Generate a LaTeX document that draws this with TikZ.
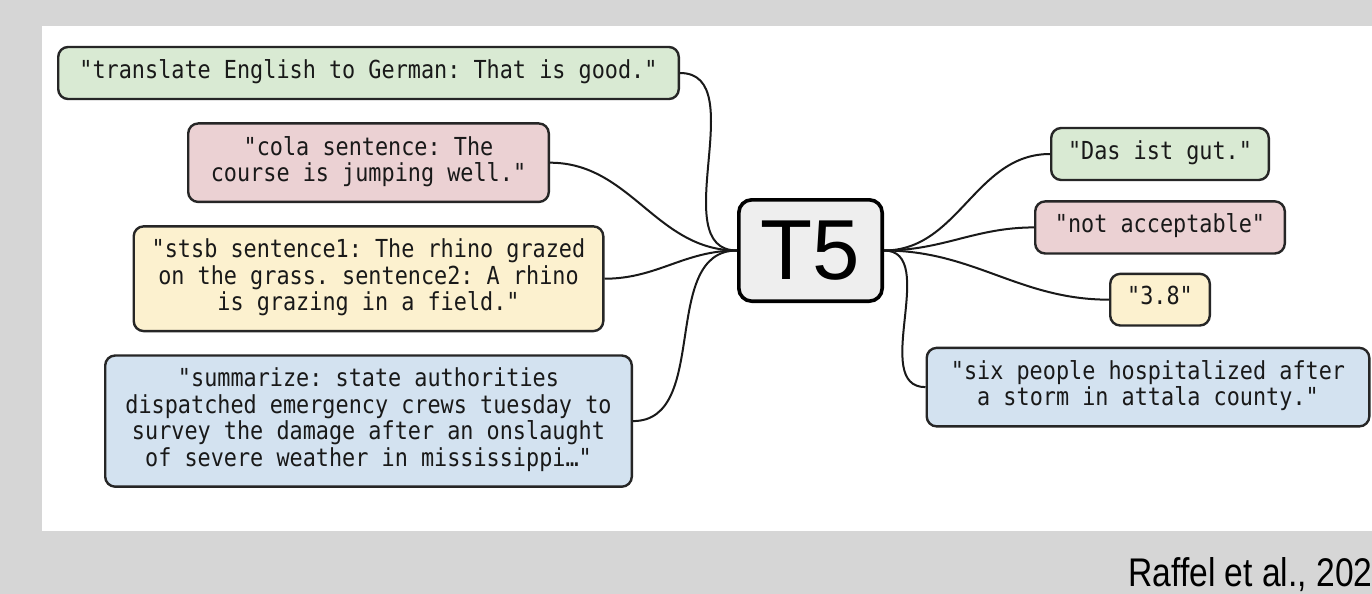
\documentclass[tikz,border=0pt]{standalone}
\usepackage{fontspec}
\setmainfont{Liberation Sans}
\setmonofont[FakeStretch=0.88]{DejaVu Sans Mono}
\newfontfamily\citefont[FakeStretch=0.84]{Liberation Sans}
\usetikzlibrary{positioning}
\definecolor{SlideGray}{HTML}{D6D6D6}
\definecolor{LightGreen}{HTML}{D9EAD3}
\definecolor{LightRed}{HTML}{EBD1D3}
\definecolor{LightYellow}{HTML}{FCF1CF}
\definecolor{LightBlue}{HTML}{D3E2F0}
\definecolor{ModelGray}{HTML}{EEEEEE}

\begin{document}
\begin{tikzpicture}[
  x=0.5pt,y=-0.5pt,
  node distance=11pt,
  msg/.style={draw=black!85,line width=1.2pt,rounded corners=5pt,align=center,text=black!90,
    font=\ttfamily\fontsize{12.4}{13.2}\selectfont,inner xsep=5pt,inner ysep=6.3pt,
    execute at begin node=\strut,execute at end node=\strut},
  model/.style={draw=black,line width=1.8pt,rounded corners=6.5pt,fill=ModelGray,
    minimum width=71.7pt,minimum height=50.7pt,inner sep=0pt,font=\fontsize{42.6}{44}\selectfont},
  link/.style={line width=1pt,black!90}
]
\useasboundingbox (0,0) rectangle (1372,594);
\fill[SlideGray] (0,0) rectangle (1372,594);
\fill[white] (42,26) rectangle (1372,531);

\node[model] (t5) at (810.5,250.5) {T5};

% inputs
\node[msg,fill=LightGreen,minimum width=310.3pt] (translate) at (368.5,73) {"translate English to German: That is good."};
\node[msg,fill=LightRed,minimum width=180.3pt,below=of translate] (cola) {"cola sentence: The\\course is jumping well."};
\node[msg,fill=LightYellow,minimum width=234.8pt,below=of cola] (stsb) {"stsb sentence1: The rhino grazed\\on the grass. sentence2: A rhino\\is grazing in a field."};
\node[msg,fill=LightBlue,minimum width=263.3pt,below=of stsb] (summarize) {"summarize: state authorities\\dispatched emergency crews tuesday to\\survey the damage after an onslaught\\of severe weather in mississippi…"};

% outputs
\node[msg,fill=LightGreen,minimum width=108.8pt] (das) at (1160,154) {"Das ist gut."};
\node[msg,fill=LightRed,minimum width=124.8pt,below=9.5pt of das] (notacc) {"not acceptable"};
\node[msg,fill=LightYellow,minimum width=49.8pt,below=9pt of notacc] (score) {"3.8"};
\node[msg,fill=LightBlue,minimum width=221.3pt,below=10pt of score,xshift=-6pt] (summary) {"six people hospitalized after\\a storm in attala county."};

\draw[link] (translate.east) to[out=0,in=180] (t5.west);
\draw[link] (cola.east) to[out=0,in=180] (t5.west);
\draw[link] (stsb.east) to[out=0,in=180] (t5.west);
\draw[link] (summarize.east) to[out=0,in=180] (t5.west);
\draw[link] (t5.east) to[out=0,in=180] (das.west);
\draw[link] (t5.east) to[out=0,in=180] (notacc.west);
\draw[link] (t5.east) to[out=0,in=180] (score.west);
\draw[link] (t5.east) to[out=0,in=180] (summary.west);

\node[anchor=base west,inner sep=0pt,font=\citefont\fontsize{20}{24}\selectfont] (credit) at (1128,586) {Raffel et al., 202};
\end{tikzpicture}
\end{document}
